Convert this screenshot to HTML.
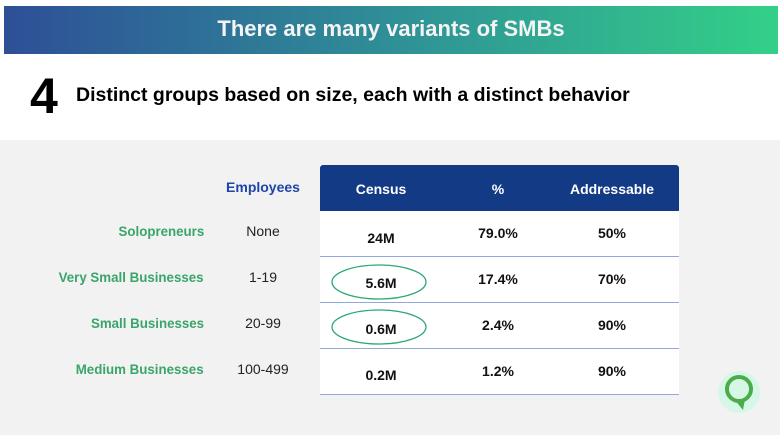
<!DOCTYPE html>
<html><head><style>
body{margin:0;width:780px;height:435px;position:relative;background:#fff;font-family:"Liberation Sans",sans-serif;overflow:hidden}
.ban{position:absolute;left:4px;top:6px;width:774px;height:48px;background:linear-gradient(90deg,#2e4f97,#2f8f97 50%,#33d088);color:#f4f4f4;font-weight:bold;font-size:22px;text-align:center;line-height:46px}
.four{position:absolute;left:30px;top:68px;font-size:50px;font-weight:bold;line-height:56px}
.sub{position:absolute;left:76px;top:84px;font-size:19.5px;font-weight:bold;white-space:nowrap}
.gray{position:absolute;left:0;top:140px;width:780px;height:295px;background:#f2f2f2}
.lab{position:absolute;right:576px;color:#3aa56a;font-weight:bold;font-size:14px;white-space:nowrap;transform:scaleX(0.95);transform-origin:right}
.emp{position:absolute;width:100px;left:213px;text-align:center;font-size:14px;color:#222}
.tab{position:absolute;left:320px;top:165px;width:359px;height:230px;background:#fff}
.hd{position:absolute;left:320px;top:165px;width:359px;height:46px;background:#133a84;border-radius:3px 3px 0 0}
.c{position:absolute;width:120px;text-align:center;font-size:14px;color:#111;font-weight:bold}
.h{color:#fff;font-size:14px}
.ln{position:absolute;left:320px;width:359px;height:1px;background:#8fa8dd}
</style></head><body>
<div class="ban">There are many variants of SMBs</div>
<div class="four">4</div>
<div class="sub">Distinct groups based on size, each with a distinct behavior</div>
<div class="gray"></div>
<div class="emp" style="top:179px;color:#1e45a8;font-weight:bold">Employees</div>
<div class="lab" style="top:223px">Solopreneurs</div>
<div class="lab" style="top:269px">Very Small Businesses</div>
<div class="lab" style="top:315px">Small Businesses</div>
<div class="lab" style="top:361px">Medium Businesses</div>
<div class="emp" style="top:223px">None</div>
<div class="emp" style="top:269px">1-19</div>
<div class="emp" style="top:315px">20-99</div>
<div class="emp" style="top:361px">100-499</div>
<div class="tab"></div>
<div class="hd"></div>
<div class="c h" style="left:321px;top:181px">Census</div>
<div class="c h" style="left:438px;top:181px">%</div>
<div class="c h" style="left:552px;top:181px">Addressable</div>
<div class="ln" style="top:256px"></div>
<div class="ln" style="top:302px"></div>
<div class="ln" style="top:348px"></div>
<div class="ln" style="top:394px"></div>
<div class="c" style="left:321px;top:230px">24M</div><div class="c" style="left:438px;top:225px">79.0%</div><div class="c" style="left:552px;top:225px">50%</div>
<div class="c" style="left:321px;top:275px">5.6M</div><div class="c" style="left:438px;top:271px">17.4%</div><div class="c" style="left:552px;top:271px">70%</div>
<div class="c" style="left:321px;top:321px">0.6M</div><div class="c" style="left:438px;top:317px">2.4%</div><div class="c" style="left:552px;top:317px">90%</div>
<div class="c" style="left:321px;top:367px">0.2M</div><div class="c" style="left:438px;top:363px">1.2%</div><div class="c" style="left:552px;top:363px">90%</div>
<svg style="position:absolute;left:0;top:0" width="780" height="435">
<ellipse cx="379" cy="282" rx="47" ry="17" fill="none" stroke="#2aa874" stroke-width="1.3"/>
<ellipse cx="379" cy="327" rx="47" ry="17" fill="none" stroke="#2aa874" stroke-width="1.3"/>
<circle cx="739" cy="392" r="21" fill="#d6f7e6"/>
<circle cx="739" cy="389" r="12" fill="none" stroke="#4aad4a" stroke-width="4"/>
<path d="M734 399 L743 410 L745 399Z" fill="#4aad4a"/>
</svg>
</body></html>
